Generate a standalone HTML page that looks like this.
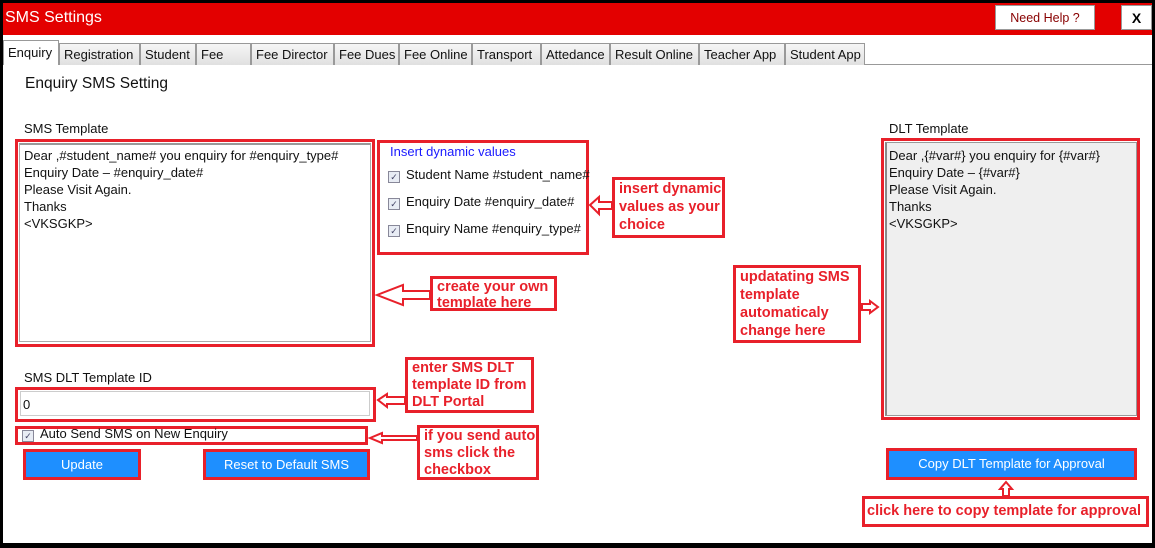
<!DOCTYPE html>
<html><head><style>
body{margin:0;width:1155px;height:548px;background:#000;position:relative;overflow:hidden;font-family:"Liberation Sans",sans-serif;}
.a{position:absolute;box-sizing:border-box}
.r{border:3px solid #e8202a}
.t{font-size:13px;color:#111;white-space:nowrap}
.ann{font-family:"Liberation Sans",sans-serif;font-weight:bold;color:#e8202a;font-size:14.5px;line-height:18px;background:#fff;padding:0 0 0 4px;white-space:nowrap}
.tab{position:absolute;top:43px;height:22px;border:1px solid #999;border-bottom:none;background:linear-gradient(#f6f6f6,#e0e0e0);font-size:13px;line-height:21px;padding-left:4px;box-sizing:border-box;color:#111;white-space:nowrap;overflow:hidden}
.btn{background:#1e8fff;color:#fff;font-size:13px;text-align:center;line-height:26px}
.cb{display:inline-block;width:10px;height:10px;border:1px solid #889;background:#e8ecf4;vertical-align:-1px;margin-right:6px;font-size:9px;line-height:10px;text-align:center;color:#446}
</style></head><body>
<div class="a" style="left:3px;top:3px;width:1149px;height:540px;background:#fff"></div>
<div class="a" style="left:3px;top:3px;width:1149px;height:32px;background:#e30000"></div>
<div class="a" style="left:5px;top:9px;color:#fff;font-size:16px">SMS Settings</div>
<div class="a" style="left:995px;top:5px;width:100px;height:25px;background:#fff;border:1px solid #999;color:#800;font-size:12.5px;text-align:center;line-height:24px">Need Help ?</div>
<div class="a" style="left:1121px;top:5px;width:31px;height:25px;background:#fff;border:1px solid #999;font-weight:bold;font-size:14px;text-align:center;line-height:24px">X</div>
<div class="a" style="left:58px;top:64px;width:1094px;height:1px;background:#999"></div>
<div class="tab" style="left:3px;top:40px;width:56px;height:25px;background:#fff;line-height:24px">Enquiry</div>
<div class="tab" style="left:59px;width:81px">Registration</div>
<div class="tab" style="left:140px;width:56px">Student</div>
<div class="tab" style="left:196px;width:55px">Fee</div>
<div class="tab" style="left:251px;width:83px">Fee Director</div>
<div class="tab" style="left:334px;width:65px">Fee Dues</div>
<div class="tab" style="left:399px;width:73px">Fee Online</div>
<div class="tab" style="left:472px;width:69px">Transport</div>
<div class="tab" style="left:541px;width:69px">Attedance</div>
<div class="tab" style="left:610px;width:89px">Result Online</div>
<div class="tab" style="left:699px;width:86px">Teacher App</div>
<div class="tab" style="left:785px;width:80px">Student App</div>
<div class="a" style="left:25px;top:75px;font-size:15.5px;color:#111">Enquiry SMS Setting</div>
<div class="a t" style="left:24px;top:121px">SMS Template</div>
<div class="a r" style="left:15px;top:139px;width:360px;height:208px"></div>
<div class="a" style="left:19px;top:143px;width:352px;height:199px;border:1px solid #aaa;border-top:2px solid #999"></div>
<div class="a t" style="left:24px;top:147px;line-height:17px">Dear ,#student_name# you enquiry for #enquiry_type#<br>Enquiry Date – #enquiry_date#<br>Please Visit Again.<br>Thanks<br>&lt;VKSGKP&gt;</div>
<div class="a r" style="left:377px;top:140px;width:212px;height:115px"></div>
<div class="a t" style="left:390px;top:144px;color:#1a1aff">Insert dynamic values</div>
<div class="a t" style="left:388px;top:167px"><span class="cb">✓</span>Student Name #student_name#</div>
<div class="a t" style="left:388px;top:194px"><span class="cb">✓</span>Enquiry Date #enquiry_date#</div>
<div class="a t" style="left:388px;top:221px"><span class="cb">✓</span>Enquiry Name #enquiry_type#</div>
<div class="a r ann" style="left:612px;top:177px;width:113px;height:61px">insert dynamic<br>values as your<br>choice</div>
<div class="a r ann" style="left:430px;top:276px;width:127px;height:35px;line-height:16px">create your own<br>template here</div>
<div class="a r ann" style="left:733px;top:265px;width:128px;height:78px">updatating SMS<br>template<br>automaticaly<br>change here</div>
<div class="a t" style="left:889px;top:121px">DLT Template</div>
<div class="a r" style="left:881px;top:138px;width:259px;height:282px"></div>
<div class="a" style="left:885px;top:142px;width:252px;height:274px;background:#efefef;border:1px solid #999;border-left:2px solid #888"></div>
<div class="a t" style="left:889px;top:147px;line-height:17px">Dear ,{#var#} you enquiry for {#var#}<br>Enquiry Date – {#var#}<br>Please Visit Again.<br>Thanks<br>&lt;VKSGKP&gt;</div>
<div class="a t" style="left:24px;top:370px">SMS DLT Template ID</div>
<div class="a r" style="left:15px;top:387px;width:361px;height:35px"></div>
<div class="a" style="left:20px;top:391px;width:350px;height:25px;border:1px solid #ccc"></div>
<div class="a t" style="left:23px;top:397px">0</div>
<div class="a r" style="left:15px;top:426px;width:353px;height:19px"></div>
<div class="a t" style="left:22px;top:426px"><span class="cb">✓</span>Auto Send SMS on New Enquiry</div>
<div class="a r ann" style="left:405px;top:357px;width:129px;height:56px;line-height:17px">enter SMS DLT<br>template ID from<br>DLT Portal</div>
<div class="a r ann" style="left:417px;top:425px;width:122px;height:55px;line-height:17px">if you send auto<br>sms click the<br>checkbox</div>
<div class="a r btn" style="left:23px;top:449px;width:118px;height:31px">Update</div>
<div class="a r btn" style="left:203px;top:449px;width:167px;height:31px">Reset to Default SMS</div>
<div class="a r btn" style="left:886px;top:448px;width:251px;height:32px">Copy DLT Template for Approval</div>
<div class="a r ann" style="left:862px;top:496px;width:287px;height:31px;line-height:25px;padding-left:2px">click here to copy template for approval</div>
<svg class="a" style="left:0;top:0" width="1155" height="548">
<g fill="#fff" stroke="#e8202a" stroke-width="2">
<polygon points="590,205 599,197 599,202 612,202 612,209 599,209 599,214"/>
<polygon points="377,295 403,285 403,291 430,291 430,299 403,299 403,305"/>
<polygon points="878,307 870,301 870,304 862,304 862,310 870,310 870,313"/>
<polygon points="378,400 387,394 387,397 405,397 405,404 387,404 387,407"/>
<polygon points="370,438 382,433 382,436 417,436 417,440 382,440 382,443"/>
<polygon points="1006,482 1000,489 1003,489 1003,496 1009,496 1009,489 1012,489"/>
</g></svg>
</body></html>
